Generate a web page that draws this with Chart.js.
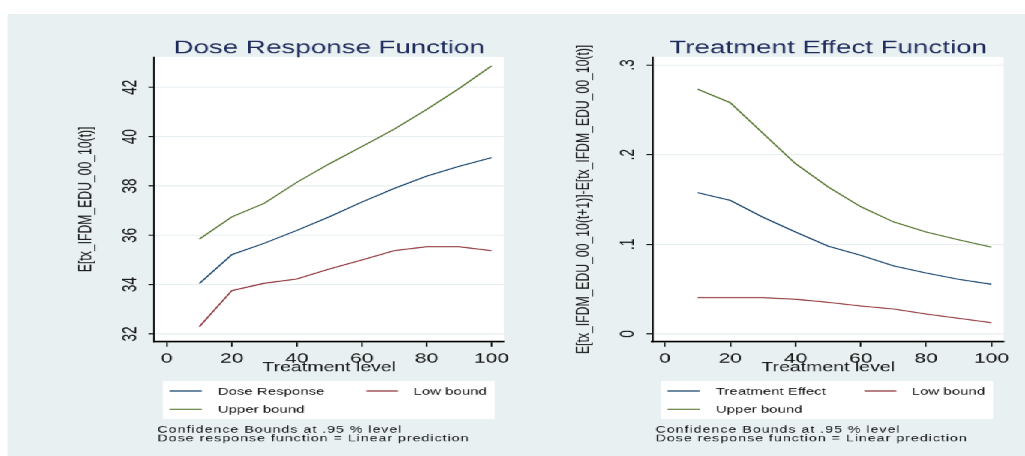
<!DOCTYPE html>
<html>
<head>
<meta charset="utf-8">
<title>Dose Response and Treatment Effect Functions</title>
<script src="https://cdn.jsdelivr.net/npm/chart.js@4.4.1/dist/chart.umd.min.js"></script>
<style>
  html, body { margin: 0; padding: 0; background: #ffffff; overflow: hidden; }
  #stage { position: absolute; left: 0; top: 0; width: 684px; height: 456px;
           transform: scaleX(1.5); transform-origin: 0 0; }
  #panelBg { position: absolute; left: 5.33px; top: 14px; right: 0; bottom: 0; background: #e8f0f2; }
  canvas { position: absolute; top: 0; width: 342px; height: 456px; }
  #dose { left: 0; }
  #effect { left: 342px; }
</style>
</head>
<body>
<div id="stage">
  <div id="panelBg"></div>
  <canvas id="dose" width="342" height="456"></canvas>
  <canvas id="effect" width="342" height="456"></canvas>
</div>
<script>
// Treatment levels at which both functions were evaluated
const treatmentLevels = [10, 20, 30, 40, 50, 60, 70, 80, 90, 100];

// Dose response function with its 95% bounds
const doseResponse = [34.05, 35.22, 35.68, 36.20, 36.75, 37.35, 37.90, 38.40, 38.80, 39.15];
const doseLow      = [32.30, 33.76, 34.06, 34.23, 34.64, 35.00, 35.38, 35.54, 35.54, 35.38];
const doseUpper    = [35.85, 36.75, 37.30, 38.15, 38.90, 39.60, 40.30, 41.10, 41.95, 42.87];

// Treatment effect function with its 95% bounds
const treatmentEffect = [0.1576, 0.1490, 0.1303, 0.1137, 0.0980, 0.0878, 0.0760, 0.0680, 0.0610, 0.0555];
const effectLow       = [0.0405, 0.0405, 0.0405, 0.0387, 0.0353, 0.0312, 0.0279, 0.0223, 0.0175, 0.0126];
const effectUpper     = [0.2730, 0.2580, 0.2240, 0.1900, 0.1640, 0.1420, 0.1250, 0.1137, 0.1050, 0.0968];

// Axis ticks
const xTickValues = [0, 20, 40, 60, 80, 100];
const doseTickValues = [32, 34, 36, 38, 40, 42];
const doseTickLabels = ['32', '34', '36', '38', '40', '42'];
const effectTickValues = [0, 0.1, 0.2, 0.3];
const effectTickLabels = ['0', '.1', '.2', '.3'];

// Legend and note texts
const doseLabels = ['Dose Response', 'Low bound', 'Upper bound'];
const effectLabels = ['Treatment Effect', 'Low bound', 'Upper bound'];
const noteLines = ['Confidence Bounds at .95 % level', 'Dose response function = Linear prediction'];

const FONT = '"Liberation Sans", Arial, Helvetica, sans-serif';
const NAVY = '#1a476f', MAROON = '#90353b', GREEN = '#55752f';
const Y_W = 30, X_H = 30, CANVAS_W = 342, CANVAS_H = 456;
const AREA_TOP = 57, AREA_BOTTOM = 341.7;

// Titles, rotated y tick labels, axis titles, legend and notes
const decor = {
  id: 'decor',
  beforeDraw(chart) {
    const { ctx, chartArea: a } = chart;
    ctx.save();
    ctx.fillStyle = '#ffffff';
    ctx.fillRect(a.left, a.top, a.right - a.left, a.bottom - a.top);
    ctx.restore();
  },
  afterDraw(chart, args, o) {
    const { ctx, chartArea: a } = chart;
    const ys = chart.scales.y;
    const cx = (a.left + a.right) / 2;
    const cy = (a.top + a.bottom) / 2;
    ctx.save();

    // plot title
    ctx.fillStyle = '#1e2b5c';
    ctx.font = '18.5px ' + FONT;
    ctx.textAlign = 'center';
    ctx.textBaseline = 'alphabetic';
    ctx.fillText(o.title, cx, 53);

    // y tick labels, read bottom to top
    ctx.fillStyle = '#111111';
    ctx.font = '13.5px ' + FONT;
    ctx.textBaseline = 'middle';
    ys.ticks.forEach((t, i) => {
      const py = ys.getPixelForValue(t.value);
      ctx.save();
      ctx.translate(a.left - 16, py);
      ctx.rotate(-Math.PI / 2);
      ctx.fillText(o.tickLabels[i], 0, 0);
      ctx.restore();
    });

    // y axis title
    ctx.font = '12.2px ' + FONT;
    ctx.save();
    ctx.translate(a.left - 45.5, cy);
    ctx.rotate(-Math.PI / 2);
    ctx.fillText(o.yTitle, 0, 0);
    ctx.restore();

    // x axis title
    ctx.font = '13px ' + FONT;
    ctx.textBaseline = 'alphabetic';
    ctx.fillText('Treatment level', cx, 371);

    // legend box
    const bx = a.left + 5.5, bw = 221.5;
    ctx.fillStyle = '#ffffff';
    ctx.fillRect(bx, 381, bw, 38);
    const rows = [391, 409.3];
    const cols = [{ l0: 10, l1: 31.5, t: 42.2 }, { l0: 141.3, l1: 162.6, t: 172.8 }];
    const slots = [[0, 0], [1, 0], [0, 1]];
    chart.data.datasets.forEach((ds, i) => {
      const [c, r] = slots[i];
      const col = cols[c], y = rows[r];
      ctx.strokeStyle = ds.borderColor;
      ctx.lineWidth = 1.2;
      ctx.beginPath();
      ctx.moveTo(a.left + col.l0, y);
      ctx.lineTo(a.left + col.l1, y);
      ctx.stroke();
      ctx.fillStyle = '#111111';
      ctx.font = '10px ' + FONT;
      ctx.textAlign = 'left';
      ctx.fillText(ds.label, a.left + col.t, y + 3.6);
    });

    // notes
    ctx.font = '9.5px ' + FONT;
    if ('letterSpacing' in ctx) ctx.letterSpacing = '0.65px';
    ctx.fillStyle = '#111111';
    ctx.fillText(noteLines[0], a.left + 2, 432.5);
    ctx.fillText(noteLines[1], a.left + 2, 441.3);
    ctx.restore();
  }
};

function buildPanel(canvasId, p) {
  const datasets = p.series.map(s => ({
    label: s.label,
    data: treatmentLevels.map((x, i) => ({ x: x, y: s.values[i] })),
    borderColor: s.color,
    borderWidth: 1.1,
    pointRadius: 0,
    fill: false,
    tension: 0
  }));
  return new Chart(document.getElementById(canvasId), {
    type: 'line',
    data: { datasets: datasets },
    options: {
      responsive: false,
      maintainAspectRatio: false,
      animation: false,
      devicePixelRatio: 1.5,
      layout: {
        padding: {
          left: p.areaLeft - Y_W,
          right: CANVAS_W - p.areaRight,
          top: AREA_TOP,
          bottom: CANVAS_H - AREA_BOTTOM - X_H
        }
      },
      plugins: {
        legend: { display: false },
        tooltip: { enabled: false },
        title: { display: false },
        decor: { title: p.title, yTitle: p.yTitle, tickLabels: p.tickLabels }
      },
      scales: {
        x: {
          type: 'linear',
          min: -3.8,
          max: 103.8,
          afterBuildTicks: s => { s.ticks = xTickValues.map(v => ({ value: v })); },
          afterFit: s => { s.height = X_H; s.paddingLeft = 0; s.paddingRight = 0; },
          grid: { drawOnChartArea: false, drawTicks: true, tickLength: 5, tickColor: '#000000', tickWidth: 1 },
          border: { display: true, color: '#000000', width: 1.6 },
          ticks: { autoSkip: false, maxRotation: 0, minRotation: 0, padding: 4, color: '#111111',
                   font: { family: FONT, size: 14 } }
        },
        y: {
          type: 'linear',
          min: p.yMin,
          max: p.yMax,
          afterBuildTicks: s => { s.ticks = p.tickValues.map(v => ({ value: v })); },
          afterFit: s => { s.width = Y_W; s.paddingTop = 0; s.paddingBottom = 0; },
          grid: { color: '#e6eef1', lineWidth: 1, drawTicks: true, tickLength: 4, tickColor: '#000000', tickWidth: 1 },
          border: { display: true, color: '#000000', width: 1.2 },
          ticks: { display: false }
        }
      }
    },
    plugins: [decor]
  });
}

buildPanel('dose', {
  title: 'Dose Response Function',
  yTitle: 'E[tx_IFDM_EDU_00_10(t)]',
  areaLeft: 102.9,
  areaRight: 336.0,
  yMin: 31.69,
  yMax: 43.23,
  tickValues: doseTickValues,
  tickLabels: doseTickLabels,
  series: [
    { label: doseLabels[0], values: doseResponse, color: NAVY },
    { label: doseLabels[1], values: doseLow, color: MAROON },
    { label: doseLabels[2], values: doseUpper, color: GREEN }
  ]
});

buildPanel('effect', {
  title: 'Treatment Effect Function',
  yTitle: 'E[tx_IFDM_EDU_00_10(t+1)]-E[tx_IFDM_EDU_00_10(t)]',
  areaLeft: 93.1,
  areaRight: 327.3,
  yMin: -0.0086,
  yMax: 0.3089,
  tickValues: effectTickValues,
  tickLabels: effectTickLabels,
  series: [
    { label: effectLabels[0], values: treatmentEffect, color: NAVY },
    { label: effectLabels[1], values: effectLow, color: MAROON },
    { label: effectLabels[2], values: effectUpper, color: GREEN }
  ]
});
</script>
</body>
</html>
